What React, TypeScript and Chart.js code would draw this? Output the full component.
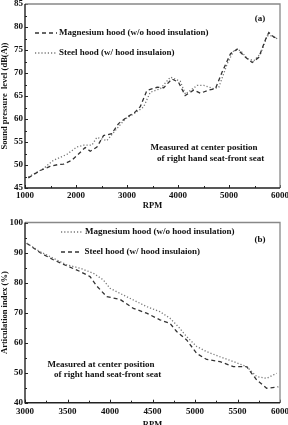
import React, { useEffect, useRef } from "react";
import { Chart, registerables } from "chart.js";
Chart.register(...registerables);

// ---------- Chart (a): sound pressure level ----------
const rpmA_mg = [1065, 1150, 1300, 1490, 1650, 1755, 1915, 2050, 2180, 2280, 2410, 2540, 2700, 2835, 3000, 3160, 3260, 3390, 3590, 3720, 3880, 4010, 4140, 4310, 4440, 4600, 4735, 4865, 5030, 5160, 5325, 5455, 5585, 5720, 5780, 5880, 5950];
const splA_mg = [47.2, 47.8, 48.8, 49.7, 50.1, 50.2, 51.0, 52.4, 53.8, 53.0, 53.9, 56.4, 56.8, 59.0, 60.4, 61.5, 62.7, 66.2, 66.9, 66.8, 68.7, 68.0, 65.1, 66.3, 65.6, 66.3, 66.6, 70.2, 74.2, 75.2, 73.4, 72.3, 73.4, 77.4, 78.8, 77.8, 77.6];
const rpmA_st = [1065, 1360, 1555, 1820, 2015, 2150, 2310, 2410, 2605, 2770, 2965, 3130, 3325, 3455, 3655, 3850, 4045, 4145, 4375, 4505, 4700, 4800, 4965, 5095, 5225, 5360, 5490, 5620, 5750, 5850, 5950];
const splA_st = [47.4, 49.2, 51.0, 52.3, 53.9, 54.3, 54.3, 56.0, 55.3, 57.5, 60.0, 61.1, 62.6, 65.8, 66.6, 69.1, 68.2, 65.4, 67.3, 67.3, 66.6, 66.9, 72.0, 74.9, 74.9, 73.1, 72.7, 74.2, 78.1, 78.1, 77.4];
const xTicksA = [1000, 2000, 3000, 4000, 5000, 6000];
const yTicksA = [45, 50, 55, 60, 65, 70, 75, 80, 85];

// ---------- Chart (b): articulation index ----------
const rpmB_mg = [3020, 3176, 3333, 3490, 3647, 3804, 3921, 4000, 4118, 4275, 4431, 4588, 4706, 4804, 4902, 5020, 5137, 5294, 5451, 5608, 5725, 5843, 5960];
const aiB_mg = [93.1, 90.3, 88.1, 85.9, 84.8, 83.1, 80.9, 78.1, 76.4, 74.2, 72.0, 70.3, 68.1, 65.3, 62.0, 58.7, 57.0, 55.3, 53.7, 52.0, 48.7, 48.1, 49.8];
const rpmB_st = [3020, 3176, 3333, 3490, 3647, 3765, 3843, 3961, 4118, 4275, 4431, 4588, 4706, 4784, 4902, 5020, 5137, 5294, 5451, 5608, 5725, 5843, 5941, 5980];
const aiB_st = [93.1, 90.0, 87.6, 85.6, 83.7, 82.0, 78.9, 75.3, 74.4, 71.4, 69.8, 67.6, 66.4, 63.7, 60.9, 56.4, 54.4, 53.7, 52.0, 52.0, 47.6, 44.8, 45.1, 45.3];
const xTicksB = [3000, 3500, 4000, 4500, 5000, 5500, 6000];
const yTicksB = [40, 50, 60, 70, 80, 90, 100];

const LABEL_MG = "Magnesium hood (w/o hood insulation)";
const LABEL_ST = "Steel hood (w/ hood insulaion)";
const NOTE1 = "Measured at center position";
const NOTE2 = "of right hand seat-front seat";

const FONT = "'Liberation Serif', 'Times New Roman', serif";
const DASH = [4, 3];
const DOT = [1.2, 2];

function pts(xs: number[], ys: number[]) {
  return xs.map((x, i) => ({ x, y: ys[i] }));
}
function minors(t: number[]) {
  const out: number[] = [];
  for (let i = 0; i < t.length - 1; i++) out.push((t[i] + t[i + 1]) / 2);
  return out;
}

const framePlugin = {
  id: "frame",
  afterDraw(chart: any, _a: any, opts: any) {
    const { ctx, chartArea } = chart;
    const { left, right, top, bottom } = chartArea;
    const xs = chart.scales.x;
    const ys = chart.scales.y;
    ctx.save();
    ctx.strokeStyle = "#222";
    ctx.lineWidth = 1;
    const tick = (vals: number[], len: number, horiz: boolean) => {
      vals.forEach((v) => {
        ctx.beginPath();
        if (horiz) {
          const p = Math.round(xs.getPixelForValue(v)) + 0.5;
          ctx.moveTo(p, bottom);
          ctx.lineTo(p, bottom - len);
        } else {
          const p = Math.round(ys.getPixelForValue(v)) + 0.5;
          ctx.moveTo(left, p);
          ctx.lineTo(left + len, p);
        }
        ctx.stroke();
      });
    };
    tick(opts.xMajor, 3, true);
    tick(minors(opts.xMajor), 2, true);
    tick(opts.yMajor, 3, false);
    tick(minors(opts.yMajor), 2, false);
    // top/right border (gray)
    ctx.strokeStyle = "#888";
    ctx.lineWidth = 1.3;
    ctx.beginPath();
    ctx.moveTo(left, top);
    ctx.lineTo(right, top);
    ctx.lineTo(right, bottom);
    ctx.stroke();
    // left/bottom axes (dark)
    ctx.strokeStyle = "#222";
    ctx.lineWidth = 1.4;
    ctx.beginPath();
    ctx.moveTo(left, top);
    ctx.lineTo(left, bottom);
    ctx.lineTo(right, bottom);
    ctx.stroke();
    ctx.restore();
  },
};

const textPlugin = {
  id: "texts",
  afterDraw(chart: any, _a: any, opts: any) {
    const { ctx } = chart;
    ctx.save();
    ctx.font = `bold 9px ${FONT}`;
    ctx.fillStyle = "#111";
    ctx.textBaseline = "middle";
    (opts.legend || []).forEach((it: any) => {
      ctx.save();
      ctx.strokeStyle = it.color;
      ctx.lineWidth = 1.3;
      ctx.setLineDash(it.dash);
      ctx.beginPath();
      ctx.moveTo(it.x0, it.y);
      ctx.lineTo(it.x1, it.y);
      ctx.stroke();
      ctx.restore();
      ctx.textAlign = "left";
      ctx.fillText(it.text, it.tx, it.y);
    });
    (opts.notes || []).forEach((n: any) => {
      ctx.textAlign = n.align || "left";
      ctx.fillText(n.text, n.x, n.y);
    });
    ctx.restore();
  },
};

function makeConfig(p: any) {
  return {
    type: "line",
    data: {
      datasets: [
        {
          label: LABEL_MG,
          data: pts(p.mgX, p.mgY),
          borderColor: p.mgColor,
          borderDash: p.mgDash,
          borderWidth: 1.3,
          pointRadius: 0,
          tension: 0,
          fill: false,
        },
        {
          label: LABEL_ST,
          data: pts(p.stX, p.stY),
          borderColor: p.stColor,
          borderDash: p.stDash,
          borderWidth: 1.3,
          pointRadius: 0,
          tension: 0,
          fill: false,
        },
      ],
    },
    options: {
      animation: false,
      responsive: false,
      maintainAspectRatio: false,
      layout: { padding: { top: p.padTop, right: 8, left: 0, bottom: 0 } },
      plugins: {
        legend: { display: false },
        tooltip: { enabled: false },
        frame: { xMajor: p.xTicks, yMajor: p.yTicks },
        texts: { legend: p.legend, notes: p.notes },
      },
      scales: {
        x: {
          type: "linear",
          min: p.xTicks[0],
          max: p.xTicks[p.xTicks.length - 1],
          afterBuildTicks: (s: any) => {
            s.ticks = p.xTicks.map((v: number) => ({ value: v }));
          },
          grid: { display: false, drawTicks: false },
          border: { display: false },
          ticks: {
            padding: p.xTickPad,
            color: "#111",
            maxRotation: 0,
            autoSkip: false,
            font: { family: FONT, size: 9, weight: "bold" },
            callback: (v: any) => String(v),
          },
          title: {
            display: true,
            text: "RPM",
            color: "#111",
            font: { family: FONT, size: 8.5, weight: "bold" },
            padding: { top: 0, bottom: p.titlePad },
          },
          afterFit: (s: any) => {
            s.height = p.xHeight;
            s.paddingLeft = 0;
            s.paddingRight = 0;
          },
        },
        y: {
          type: "linear",
          min: p.yTicks[0],
          max: p.yTicks[p.yTicks.length - 1],
          afterBuildTicks: (s: any) => {
            s.ticks = p.yTicks.map((v: number) => ({ value: v }));
          },
          grid: { display: false, drawTicks: false },
          border: { display: false },
          ticks: {
            padding: 2,
            color: "#111",
            autoSkip: false,
            font: { family: FONT, size: 9, weight: "bold" },
            callback: (v: any) => String(v),
          },
          title: {
            display: true,
            text: p.yTitle,
            color: "#111",
            font: { family: FONT, size: 8.5, weight: "bold" },
            padding: { top: 0, bottom: 0 },
          },
          afterFit: (s: any) => {
            s.width = 25;
            s.paddingTop = 0;
            s.paddingBottom = 0;
          },
        },
      },
    },
    plugins: [framePlugin, textPlugin],
  };
}

function ChartCanvas({ cfg, top, height }: { cfg: any; top: number; height: number }) {
  const ref = useRef<HTMLCanvasElement | null>(null);
  useEffect(() => {
    if (!ref.current) return;
    const c = new Chart(ref.current, cfg);
    return () => c.destroy();
  }, []);
  return (
    <canvas
      ref={ref}
      width={288}
      height={height}
      style={{ position: "absolute", left: 0, top, width: 288, height }}
    />
  );
}

export default function App() {
  const cfgA = makeConfig({
    mgX: rpmA_mg, mgY: splA_mg, stX: rpmA_st, stY: splA_st,
    mgColor: "#333", mgDash: DASH, stColor: "#777", stDash: DOT,
    xTicks: xTicksA, yTicks: yTicksA,
    yTitle: "Sound pressure  level (dB(A))",
    padTop: 4, xHeight: 24, xTickPad: 2, titlePad: 1.6,
    legend: [
      { x0: 35, x1: 57, y: 33, tx: 59, text: LABEL_MG, dash: DASH, color: "#333" },
      { x0: 35, x1: 57, y: 53, tx: 59, text: LABEL_ST, dash: DOT, color: "#777" },
    ],
    notes: [
      { text: "(a)", x: 260, y: 19, align: "center" },
      { text: NOTE1, x: 150.5, y: 148 },
      { text: NOTE2, x: 157, y: 159 },
    ],
  });
  const cfgB = makeConfig({
    mgX: rpmB_mg, mgY: aiB_mg, stX: rpmB_st, stY: aiB_st,
    mgColor: "#777", mgDash: DOT, stColor: "#333", stDash: DASH,
    xTicks: xTicksB, yTicks: yTicksB,
    yTitle: "Articulation index (%)",
    padTop: 10.5, xHeight: 29.3, xTickPad: 3.5, titlePad: 2.1,
    legend: [
      { x0: 61, x1: 82, y: 20, tx: 85, text: LABEL_MG, dash: DOT, color: "#777" },
      { x0: 61, x1: 82, y: 40, tx: 84.5, text: LABEL_ST, dash: DASH, color: "#333" },
    ],
    notes: [
      { text: "(b)", x: 260, y: 28, align: "center" },
      { text: NOTE1, x: 47.5, y: 152.5 },
      { text: NOTE2, x: 54, y: 162.5 },
    ],
  });
  return (
    <div style={{ position: "absolute", left: 0, top: 0, width: 288, height: 425, overflow: "hidden", background: "#fff" }}>
      <ChartCanvas cfg={cfgA} top={0} height={212} />
      <ChartCanvas cfg={cfgB} top={212} height={220} />
    </div>
  );
}
